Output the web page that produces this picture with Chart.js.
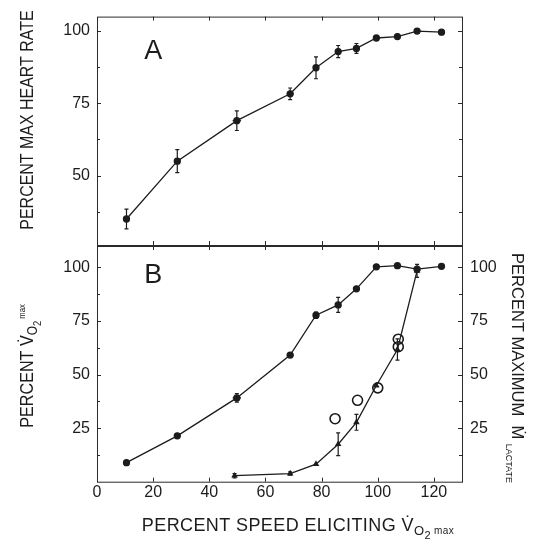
<!DOCTYPE html>
<html>
<head>
<meta charset="utf-8">
<script src="https://cdn.jsdelivr.net/npm/chart.js@4.4.0/dist/chart.umd.min.js"></script>
<style>
  html, body { margin: 0; padding: 0; background: #fff; }
  #wrap { position: relative; width: 541px; height: 541px; }
  canvas { position: absolute; left: 0; top: 0; }
</style>
</head>
<body>
<div id="wrap">
  <canvas id="chartA" width="541" height="541"></canvas>
  <canvas id="chartB" width="541" height="541"></canvas>
</div>
<script>
// values
const speed = [10.5, 28.6, 49.8, 68.8, 78, 85.9, 92.4, 99.5, 107, 114, 122.7];
const heartRate = [35, 55, 69, 78.3, 87.3, 92.9, 94, 97.6, 98.1, 100, 99.6];
const heartRateErr = [3.4, 4, 3.4, 2, 3.8, 2.1, 1.7, 0, 0, 0, 0];
const speedErr = [0, 0, 1.5, 1.2, 0, 0, 0, 0, 0, 0, 0];
const vo2 = [8.9, 21.4, 39.1, 59.1, 77.7, 82.5, 90, 100.3, 100.8, 99.2, 100.5];
const vo2Err = [0, 0, 2, 0, 1.5, 3.5, 0, 0, 0, 0, 0];
const lactateSpeed = [49, 68.8, 78, 85.9, 92.4, 99.5, 107, 114];
const lactate = [2.8, 3.8, 8.2, 17.5, 27.7, 44.9, 61.7, 98.4];
const lactateErr = [1, 0.8, 0, 5.3, 3.7, 0, 5, 3];
const circleSpeed = [84.8, 92.8, 100, 107.3, 107.3];
const circleLactate = [29.4, 38, 43.8, 63, 66.5];

const speedTicks = [0, 20, 40, 60, 80, 100, 120];
const heartTicks = [50, 75, 100];
const percentTicks = [25, 50, 75, 100];

const INK = '#1c1c1c';
const FONT = "'Liberation Sans', Arial, sans-serif";

const toXY = (xs, ys) => xs.map((x, i) => ({x: x, y: ys[i]}));
const fixTicks = list => scale => { scale.ticks = list.map(v => ({value: v})); };

// error bars, drawn through the scales
const errorBars = {
    id: 'errorBars',
    afterDatasetsDraw(chart) {
        const ctx = chart.ctx;
        chart.data.datasets.forEach(ds => {
            if (!ds.errY) return;
            const sx = chart.scales[ds.xAxisID || 'x'];
            const sy = chart.scales[ds.yAxisID || 'y'];
            ctx.save();
            ctx.strokeStyle = INK;
            ctx.lineWidth = 1.2;
            ds.data.forEach((p, i) => {
                const px = sx.getPixelForValue(p.x);
                const py = sy.getPixelForValue(p.y);
                const e = ds.errY[i];
                if (e) {
                    const y1 = sy.getPixelForValue(p.y - e), y2 = sy.getPixelForValue(p.y + e);
                    ctx.beginPath();
                    ctx.moveTo(px, y1); ctx.lineTo(px, y2);
                    ctx.moveTo(px - 2, y1); ctx.lineTo(px + 2, y1);
                    ctx.moveTo(px - 2, y2); ctx.lineTo(px + 2, y2);
                    ctx.stroke();
                }
                const ex = ds.errX && ds.errX[i];
                if (ex) {
                    const x1 = sx.getPixelForValue(p.x - ex), x2 = sx.getPixelForValue(p.x + ex);
                    ctx.beginPath();
                    ctx.moveTo(x1, py); ctx.lineTo(x2, py);
                    ctx.stroke();
                }
            });
            ctx.restore();
        });
    }
};

// box round the plot with small inward ticks
const frame = {
    id: 'frame',
    afterDraw(chart, args, opts) {
        const ctx = chart.ctx, a = chart.chartArea;
        const sx = chart.scales.x, sy = chart.scales.y;
        ctx.save();
        ctx.strokeStyle = '#2a2a2a';
        ctx.lineWidth = 1;
        ctx.strokeRect(a.left + 0.5, a.top + 0.5, a.right - a.left, a.bottom - a.top);
        ctx.beginPath();
        for (let v = 20; v < sx.max; v += 20) {
            const px = Math.round(sx.getPixelForValue(v)) + 0.5;
            ctx.moveTo(px, a.top); ctx.lineTo(px, a.top + 4);
            ctx.moveTo(px, a.bottom); ctx.lineTo(px, a.bottom - 4);
        }
        for (let v = opts.yStart; v < sy.max; v += 12.5) {
            const py = Math.round(sy.getPixelForValue(v)) + 0.5;
            const len = (v % 25 === 0) ? 4 : 3;
            ctx.moveTo(a.left, py); ctx.lineTo(a.left + len, py);
            ctx.moveTo(a.right, py); ctx.lineTo(a.right - len, py);
        }
        ctx.stroke();
        ctx.restore();
    }
};

// text with sub/superscripts: parts = [text, size, dy]
function drawRich(ctx, t) {
    const squeeze = t.squeeze || 1;
    ctx.save();
    ctx.translate(t.x, t.y);
    ctx.rotate(t.rot);
    ctx.scale(squeeze, 1);
    ctx.fillStyle = INK;
    ctx.textBaseline = 'alphabetic';
    ctx.letterSpacing = (t.spacing || 0) + 'px';
    let total = 0;
    t.parts.forEach(p => { ctx.font = p[1] + 'px ' + FONT; total += ctx.measureText(p[0]).width; });
    let x = -total / 2;
    t.parts.forEach(p => {
        ctx.font = p[1] + 'px ' + FONT;
        ctx.fillText(p[0], x, p[2]);
        x += ctx.measureText(p[0]).width;
    });
    ctx.restore();
}

const labels = {
    id: 'labels',
    afterDraw(chart, args, opts) {
        const ctx = chart.ctx;
        const sx = chart.scales.x, sy = chart.scales.y;
        // panel letter
        ctx.save();
        ctx.fillStyle = INK;
        ctx.font = '27px ' + FONT;
        ctx.textAlign = 'center';
        ctx.textBaseline = 'middle';
        ctx.fillText(opts.letter[0], sx.getPixelForValue(opts.letter[1]), sy.getPixelForValue(opts.letter[2]));
        ctx.restore();
        opts.texts.forEach(t => drawRich(ctx, t));
    }
};

const axisFont = {family: FONT, size: 16};

new Chart(document.getElementById('chartA'), {
    type: 'scatter',
    data: {
        datasets: [{
            data: toXY(speed, heartRate),
            errY: heartRateErr,
            errX: speedErr,
            showLine: true,
            borderColor: INK,
            borderWidth: 1.3,
            pointRadius: 3,
            pointBackgroundColor: INK,
            pointBorderColor: INK
        }]
    },
    options: {
        responsive: false,
        animation: false,
        layout: {padding: {top: 10, right: 79, bottom: 296, left: 0}},
        plugins: {
            legend: {display: false},
            tooltip: {enabled: false},
            frame: {yStart: 37.5},
            labels: {
                letter: ['A', 20, 93],
                texts: [
                    {parts: [['PERCENT MAX HEART RATE', 19, 0]], x: 33, y: 120, rot: -Math.PI / 2, squeeze: 0.84}
                ]
            }
        },
        scales: {
            x: {type: 'linear', min: 0, max: 130, display: false},
            y: {
                type: 'linear', min: 26, max: 105,
                afterBuildTicks: fixTicks(heartTicks),
                afterFit: s => { s.width = 97; },
                grid: {display: false, drawTicks: false},
                border: {display: false},
                ticks: {font: axisFont, color: INK, padding: 7}
            }
        }
    },
    plugins: [errorBars, frame, labels]
});

new Chart(document.getElementById('chartB'), {
    type: 'scatter',
    data: {
        datasets: [{
            data: toXY(speed, vo2),
            errY: vo2Err,
            errX: speedErr,
            showLine: true,
            borderColor: INK,
            borderWidth: 1.3,
            pointRadius: 3,
            pointBackgroundColor: INK,
            pointBorderColor: INK
        }, {
            data: toXY(lactateSpeed, lactate),
            errY: lactateErr,
            showLine: true,
            borderColor: INK,
            borderWidth: 1.3,
            pointStyle: 'triangle',
            pointRadius: 2.5,
            pointBackgroundColor: INK,
            pointBorderColor: INK
        }, {
            data: toXY(circleSpeed, circleLactate),
            showLine: false,
            pointRadius: 5,
            pointBorderWidth: 1.6,
            pointBackgroundColor: 'rgba(0,0,0,0)',
            pointBorderColor: INK
        }]
    },
    options: {
        responsive: false,
        animation: false,
        layout: {padding: {top: 246, right: 0, bottom: 0, left: 0}},
        plugins: {
            legend: {display: false},
            tooltip: {enabled: false},
            frame: {yStart: 12.5},
            labels: {
                letter: ['B', 20, 96],
                texts: [
                    {parts: [['PERCENT SPEED ELICITING V\u0307', 18, 0], ['O', 13, 4], ['2', 11, 8], [' max', 10, 3]],
                        x: 298, y: 531, rot: 0, spacing: 0.4},
                    {parts: [['PERCENT V\u0307', 19, 0], ['O', 14, 4], ['2', 11, 8], [' max', 9, -8]],
                        x: 33, y: 366, rot: -Math.PI / 2, squeeze: 0.85},
                    {parts: [['PERCENT MAXIMUM  M\u0307 ', 16.5, 0], ['LACTATE', 9, 6]],
                        x: 512, y: 368, rot: Math.PI / 2}
                ]
            }
        },
        scales: {
            x: {
                type: 'linear', min: 0, max: 130,
                afterBuildTicks: fixTicks(speedTicks),
                afterFit: s => { s.height = 59.3; },
                grid: {display: false, drawTicks: false},
                border: {display: false},
                ticks: {font: axisFont, color: INK, padding: 1, maxRotation: 0}
            },
            y: {
                type: 'linear', min: 0, max: 110,
                afterBuildTicks: fixTicks(percentTicks),
                afterFit: s => { s.width = 97; },
                grid: {display: false, drawTicks: false},
                border: {display: false},
                ticks: {font: axisFont, color: INK, padding: 7}
            },
            y2: {
                type: 'linear', position: 'right', min: 0, max: 110,
                afterBuildTicks: fixTicks(percentTicks),
                afterFit: s => { s.width = 79; },
                grid: {display: false, drawTicks: false},
                border: {display: false},
                ticks: {font: axisFont, color: INK, padding: 8}
            }
        }
    },
    plugins: [errorBars, frame, labels]
});
</script>
</body>
</html>
